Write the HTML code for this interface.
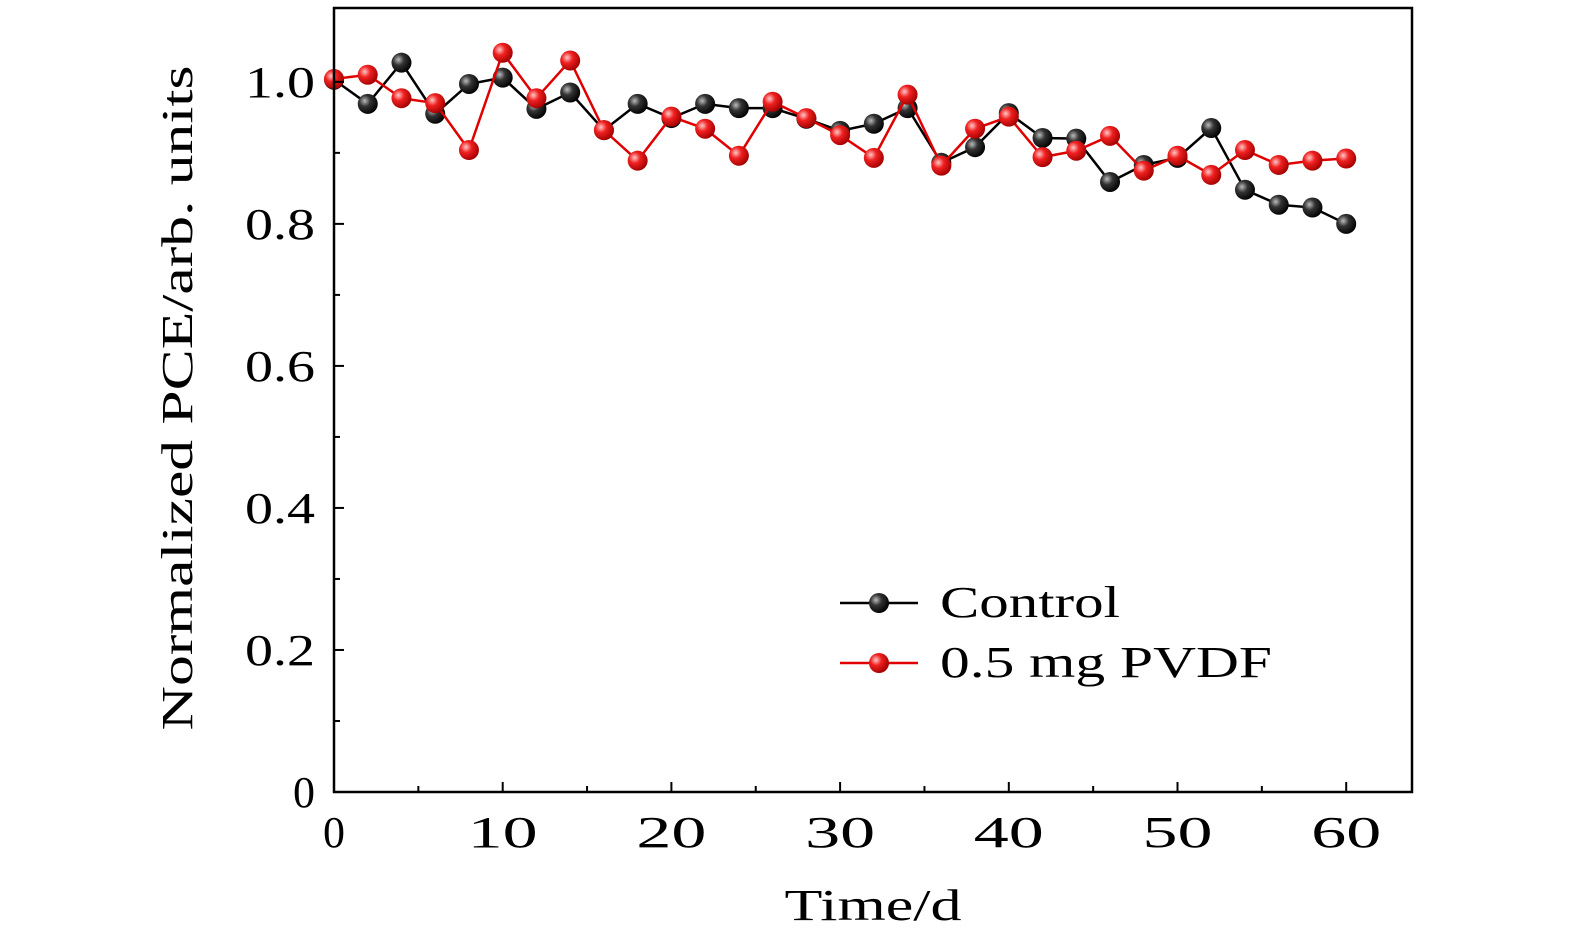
<!DOCTYPE html>
<html><head><meta charset="utf-8"><style>
body{margin:0;background:#fff}
text{font-family:"Liberation Serif",serif;fill:#000}
</style></head><body>
<svg width="1575" height="945" viewBox="0 0 1575 945">
<defs>
<radialGradient id="gk" cx="0.35" cy="0.35" r="0.7"><stop offset="0" stop-color="#bbb"/><stop offset="0.4" stop-color="#333"/><stop offset="1" stop-color="#000"/></radialGradient>
<radialGradient id="gr" cx="0.35" cy="0.35" r="0.7"><stop offset="0" stop-color="#ffc8c8"/><stop offset="0.4" stop-color="#f02020"/><stop offset="1" stop-color="#a00000"/></radialGradient>
</defs>
<g id="plot"></g>
<g id="axes"></g>
<text x="873" y="920" font-size="44" text-anchor="middle" textLength="177" lengthAdjust="spacingAndGlyphs">Time/d</text>
<text transform="translate(192,398) rotate(-90)" font-size="44" text-anchor="middle" textLength="665" lengthAdjust="spacingAndGlyphs">Normalized PCE/arb. units</text>
<g>
<g>
<line x1="840" y1="603" x2="918" y2="603" stroke="#000" stroke-width="2.5"/>
<circle cx="879" cy="603" r="10" fill="url(#gk)"/>
<text x="940" y="617" font-size="44" textLength="180" lengthAdjust="spacingAndGlyphs">Control</text></g>
<g>
<line x1="840" y1="663" x2="918" y2="663" stroke="#e00000" stroke-width="2.5"/>
<circle cx="879" cy="663" r="10" fill="url(#gr)"/>
<text x="940" y="677" font-size="44" textLength="332" lengthAdjust="spacingAndGlyphs">0.5 mg PVDF</text></g>
</g>
</svg>
<script>
const days=[0,2,4,6,8,10,12,14,16,18,20,22,24,26,28,30,32,34,36,38,40,42,44,46,48,50,52,54,56,58,60];
const control=[1.003,0.969,1.027,0.955,0.997,1.006,0.962,0.985,0.932,0.969,0.949,0.969,0.963,0.963,0.948,0.931,0.941,0.963,0.886,0.908,0.956,0.921,0.920,0.859,0.883,0.893,0.935,0.848,0.827,0.823,0.800];
const pvdf=[1.004,1.010,0.977,0.970,0.904,1.041,0.977,1.030,0.932,0.889,0.951,0.934,0.896,0.972,0.949,0.925,0.893,0.982,0.882,0.934,0.951,0.894,0.903,0.924,0.875,0.896,0.869,0.904,0.883,0.889,0.892];
const xTicks=[0,10,20,30,40,50,60];
const yTicks=[0,0.2,0.4,0.6,0.8,1.0];
const X0=334,X1=1412,Y0=792,Y1=8,XMAX=63.9,YMAX=1.104;
const sx=v=>X0+v/XMAX*(X1-X0), sy=v=>Y0-v/YMAX*(Y0-Y1);
const NS="http://www.w3.org/2000/svg";
function mk(t,a,p){const e=document.createElementNS(NS,t);for(const k in a)e.setAttribute(k,a[k]);p.appendChild(e);return e;}
const ax=document.getElementById('axes'),pl=document.getElementById('plot');
const fr=mk('rect',{x:X0,y:Y1,width:X1-X0,height:Y0-Y1,fill:'none',stroke:'#000','stroke-width':2.5},ax);


for(let v=0;v<=XMAX;v+=5){const maj=v%10===0;mk('line',{x1:sx(v),x2:sx(v),y1:Y0,y2:Y0-(maj?10:6),stroke:'#000','stroke-width':2},ax);}
for(let i=0;i<=10;i++){const v=i*0.1;const maj=i%2===0;mk('line',{x1:X0,x2:X0+(maj?10:6),y1:sy(v),y2:sy(v),stroke:'#000','stroke-width':2},ax);}
xTicks.forEach(v=>{const a={x:sx(v),y:847,'font-size':44,'text-anchor':'middle'};if(v>0){a.textLength=v>0?70:25;a.lengthAdjust='spacingAndGlyphs';}
const t=mk('text',a,ax);t.textContent=v;

});
yTicks.forEach(v=>{const a={x:315,y:sy(v)+15,'font-size':44,'text-anchor':'end'};if(v>0){a.textLength=70;a.lengthAdjust='spacingAndGlyphs';}
const t=mk('text',a,ax);t.textContent=v===0?'0':v.toFixed(1);

});
function series(vals,col,grad,name){
 const g=mk('g',{},pl);
 
 
 mk('polyline',{points:days.map((d,i)=>sx(d)+','+sy(vals[i])).join(' '),fill:'none',stroke:col,'stroke-width':2.5},g);
 days.forEach((d,i)=>{const c=mk('circle',{cx:sx(d),cy:sy(vals[i]),r:10,fill:grad},g);
 
 });
}
series(control,'#000','url(#gk)','control-series');
series(pvdf,'#e00000','url(#gr)','pvdf-series');
</script>
</body></html>
